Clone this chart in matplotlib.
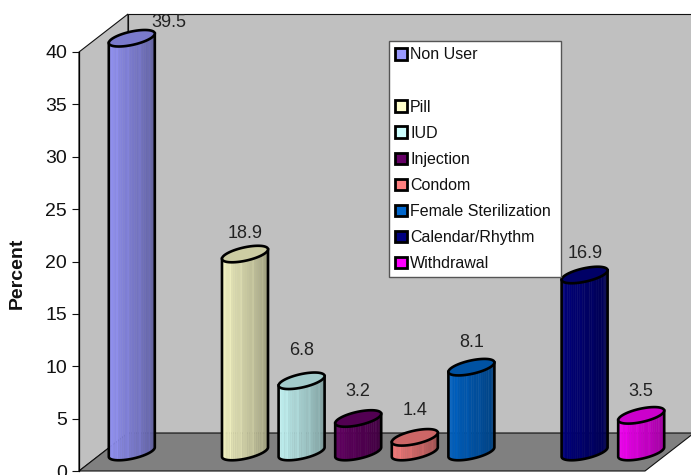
import numpy as np
import matplotlib
matplotlib.use('Agg')
import matplotlib.pyplot as plt
from matplotlib.patches import Patch, Polygon, Rectangle

plt.rcParams['font.family'] = ['Liberation Sans', 'DejaVu Sans']

categories = ['Non User', 'Pill', 'IUD', 'Injection', 'Condom',
              'Female Sterilization', 'Calendar/Rhythm', 'Withdrawal']
values = [39.5, 18.9, 6.8, 3.2, 1.4, 8.1, 16.9, 3.5]
slots = [0, 2, 3, 4, 5, 6, 8, 9]
colors = ['#9999FF', '#FFFFCC', '#CCFFFF', '#660066',
          '#FF8080', '#0066CC', '#000080', '#FF00FF']
yticks = [0, 5, 10, 15, 20, 25, 30, 35, 40]

# pixels per data unit
PX_X = 56.6
PX_Y = 10.48
# 3d depth of the box, in data units
DX = 49 / PX_X
DY = 38 / PX_Y

fig = plt.figure(figsize=(6.91, 4.75), dpi=100)
ax = fig.add_axes([79 / 691, 4 / 475, 566 / 691, 419 / 475])
ax.set_xlim(-0.5, 9.5)
ax.set_ylim(0, 40)
ax.patch.set_visible(False)
for s in ['top', 'right', 'bottom']:
    ax.spines[s].set_visible(False)
ax.spines['left'].set_linewidth(0.9)
ax.spines['left'].set_zorder(3)
ax.set_xticks([])
ax.set_yticks(yticks)
ax.tick_params(axis='y', length=5, width=0.8, labelsize=14, pad=3.5, colors='#111111')

# walls and floor
x0, x1 = -0.5, 9.5
wall = dict(facecolor='#C0C0C0', edgecolor='#111111', linewidth=0.8, clip_on=False, zorder=1)
ax.add_patch(Polygon([(x0, 0), (x0 + DX, DY), (x0 + DX, 40 + DY), (x0, 40)], **wall))
ax.add_patch(Polygon([(x0 + DX, DY), (x1 + DX, DY), (x1 + DX, 40 + DY), (x0 + DX, 40 + DY)], **wall))
ax.add_patch(Polygon([(x0, 0), (x1, 0), (x1 + DX, DY), (x0 + DX, DY)],
                     facecolor='#808080', edgecolor='#111111', linewidth=0.8,
                     clip_on=False, zorder=2))


def ring(cx, cy, t):
    # skewed ellipse of the cylinder, sizes in pixels
    x = cx + 23 * np.cos(t) / PX_X
    y = cy + (4.7 * np.cos(t) + 6.8 * np.sin(t)) / PX_Y
    return x, y


def cylinder(slot, value, color, z):
    cx = slot + DX / 2
    cy = DY / 2
    rgb = np.array(matplotlib.colors.to_rgb(color))
    n = 30
    edges = np.linspace(np.pi, 2 * np.pi, n + 1)
    for i in range(n):
        t = np.linspace(edges[i], edges[i + 1], 4)
        xb, yb = ring(cx, cy, t)
        xt, yt = ring(cx, cy + value, t)
        f = 1.0 - 0.42 * (i / (n - 1))
        if i % 5 == 3:
            f += 0.04
        poly = np.r_[np.c_[xb, yb], np.c_[xt, yt][::-1]]
        ax.add_patch(Polygon(poly, facecolor=rgb * f, edgecolor=rgb * f, linewidth=0.3,
                             clip_on=False, zorder=z))
    t = np.linspace(np.pi, 2 * np.pi, 60)
    xb, yb = ring(cx, cy, t)
    xt, yt = ring(cx, cy + value, t)
    ax.plot(np.r_[xt[0], xb, xt[-1]], np.r_[yt[0], yb, yt[-1]], color='black', lw=1.9,
            clip_on=False, zorder=z + 0.1, solid_joinstyle='round')
    t = np.linspace(0, 2 * np.pi, 120)
    xt, yt = ring(cx, cy + value, t)
    ax.add_patch(Polygon(np.c_[xt, yt], facecolor=rgb * 0.8, edgecolor='black', linewidth=1.9,
                         clip_on=False, zorder=z + 0.2))
    return cx, cy + value


# label offsets from the bar top, in pixels
label_dx = [37, 0, 0, 0, 0, 0, 1, 0]
label_dy = [16, 21, 30, 27, 27, 25, 21, 24]

for i, (slot, value, color) in enumerate(zip(slots, values, colors)):
    cx, top = cylinder(slot, value, color, 5 + i)
    ax.text(cx + label_dx[i] / PX_X, top + label_dy[i] / PX_Y, '%.1f' % value,
            ha='center', va='center', fontsize=13, color='#222222',
            clip_on=False, zorder=20)

fig.text(17 / 691, 1 - 273 / 475, 'Percent', rotation=90, ha='center', va='center',
         fontsize=14, fontweight='bold', color='#111111')

# legend, with an empty row after the first entry
handles = [Patch(facecolor=c, edgecolor='black', linewidth=2) for c in colors]
handles.insert(1, Patch(facecolor='none', edgecolor='none'))
labels = list(categories)
labels.insert(1, ' ')
fig.add_artist(Rectangle((389 / 691, 1 - 277 / 475), 172 / 691, 236 / 475,
                         transform=fig.transFigure, facecolor='white',
                         edgecolor='#555555', linewidth=1.0, zorder=29))
leg = fig.legend(handles, labels, loc='upper left',
                 bbox_to_anchor=(389 / 691, 1 - 41 / 475), borderaxespad=0,
                 fontsize=11.5, frameon=False, labelcolor='#111111',
                 handlelength=0.72, handleheight=0.72, handletextpad=0.2,
                 labelspacing=0.695, borderpad=0.4)
leg.set_zorder(30)

fig.savefig('out.png', dpi=100)
